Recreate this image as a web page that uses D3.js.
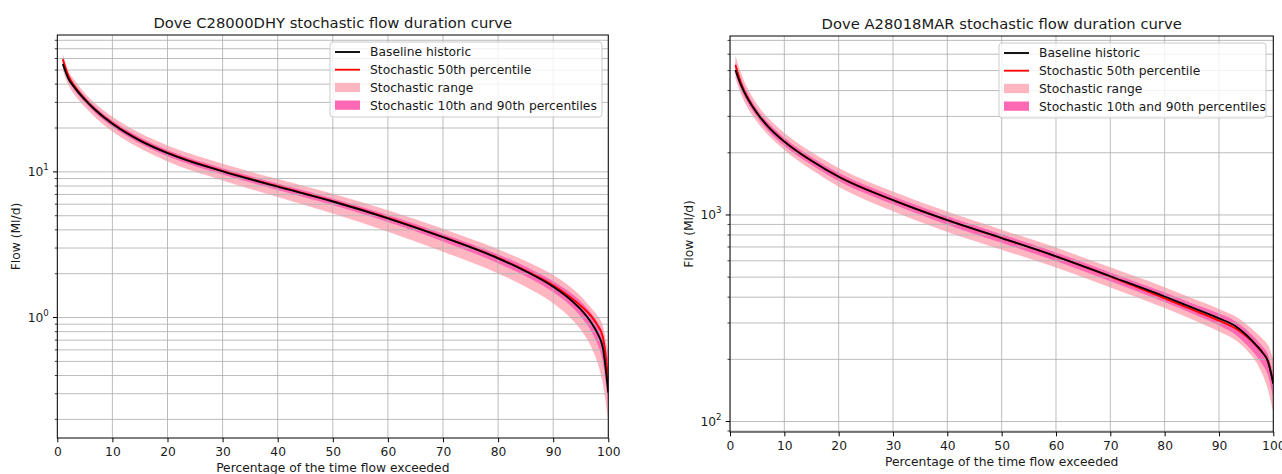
<!DOCTYPE html>
<html>
<head>
<meta charset="utf-8">
<script src="https://cdn.jsdelivr.net/npm/d3@7"></script>
<style>
  body { margin: 0; background: #fff; }
  svg text { font-family: "DejaVu Sans", sans-serif; fill: #1a1a1a; }
</style>
</head>
<body>
<div id="chart"></div>
<script>
// percentage of time flow exceeded
const pct = [1, 2, 3, 5, 7, 10, 15, 20, 30, 40, 50, 60, 70, 80, 85, 90, 93, 95, 97, 98, 99, 100];

// Dove C28000DHY (Ml/d)
const dhyBaseline = [55.0, 43.7, 38.5, 31.3, 26.4, 21.4, 16.4, 13.45, 10.08, 7.91, 6.26, 4.80, 3.56, 2.55, 2.08, 1.627, 1.341, 1.136, 0.911, 0.784, 0.623, 0.305];
const dhyP50      = [59.3, 45.7, 39.4, 31.6, 26.5, 21.6, 16.56, 13.54, 10.15, 7.97, 6.30, 4.84, 3.58, 2.57, 2.10, 1.665, 1.388, 1.204, 1.010, 0.890, 0.740, 0.371];
const dhyMin      = [50.1, 39.4, 34.4, 27.9, 23.4, 18.9, 14.5, 11.79, 8.74, 6.71, 5.17, 3.88, 2.83, 2.01, 1.63, 1.254, 1.006, 0.823, 0.616, 0.495, 0.350, 0.1925];
const dhyMax      = [64.6, 49.5, 43.2, 34.7, 29.2, 23.9, 18.45, 15.15, 11.36, 8.92, 7.07, 5.45, 4.07, 2.94, 2.44, 1.957, 1.632, 1.398, 1.147, 1.034, 0.880, 0.568];
const dhyP10      = [53.5, 42.2, 36.9, 29.9, 25.2, 20.4, 15.67, 12.81, 9.58, 7.51, 5.92, 4.52, 3.33, 2.36, 1.923, 1.495, 1.218, 1.017, 0.793, 0.660, 0.495, 0.251];
const dhyP90      = [61.4, 47.3, 40.7, 32.9, 27.7, 22.5, 17.26, 14.11, 10.58, 8.31, 6.57, 5.05, 3.76, 2.71, 2.24, 1.772, 1.491, 1.290, 1.058, 0.932, 0.784, 0.506];

// Dove A28018MAR (Ml/d)
const marBaseline = [5030, 4266, 3758, 3105, 2679, 2265, 1828, 1531, 1180, 944, 773, 631, 505, 403, 357, 316, 290, 263, 232, 216, 196, 152.4];
const marP50      = [5316, 4365, 3802, 3110, 2682, 2268, 1830, 1533, 1181, 945, 773, 630, 503, 395, 349, 308, 283, 259, 231, 216, 196, 154];
const marMin      = [4587, 3855, 3388, 2818, 2443, 2065, 1656, 1371, 1042, 828, 679, 557, 446, 355, 313, 273, 248, 223, 191, 169.4, 143.5, 110.4];
const marMax      = [5908, 4875, 4217, 3428, 2951, 2495, 2018, 1690, 1300, 1038, 849, 695, 558, 447, 396, 351, 323, 296.5, 266.7, 251.8, 234.4, 201];
const marP10      = [4826, 4074, 3589, 2965, 2559, 2163, 1746, 1462, 1127, 897, 733, 598, 478, 379, 334, 292, 264, 237, 206, 189, 168, 129.7];
const marP90      = [5490, 4571, 3981, 3251, 2799, 2366, 1910, 1600, 1233, 986, 807, 659, 527, 421, 374, 333, 306, 279, 248, 231, 212, 169];

const xTicks = [0, 10, 20, 30, 40, 50, 60, 70, 80, 90, 100];
const legendLabels = ['Baseline historic', 'Stochastic 50th percentile', 'Stochastic range', 'Stochastic 10th and 90th percentiles'];

const panels = [
    {
        id: 'dhy', title: 'Dove C28000DHY stochastic flow duration curve',
        baseline: dhyBaseline, p50: dhyP50, min: dhyMin, max: dhyMax, p10: dhyP10, p90: dhyP90,
        yDomain: [0.149, 87],
        left: 57.3, right: 608.3, top: 35, bottom: 438,
        yLabelX: 16, legendX: 330, legendY: 42, legendW: 272
    },
    {
        id: 'mar', title: 'Dove A28018MAR stochastic flow duration curve',
        baseline: marBaseline, p50: marP50, min: marMin, max: marMax, p10: marP10, p90: marP90,
        yDomain: [89, 7350],
        left: 730, right: 1273.3, top: 36, bottom: 432,
        yLabelX: 689, legendX: 999, legendY: 43, legendW: 267
    }
];

const W = 1282, H = 474;
const FONT = 12.3;
const svg = d3.select('#chart').append('svg')
    .attr('width', W).attr('height', H)
    .attr('viewBox', `0 0 ${W} ${H}`);

const LIGHT = '#ffb6c1';   // lightpink
const HOT = '#ff69b4';     // hotpink
const GRID = '#b0b0b0';

panels.forEach(drawPanel);

function drawPanel(p) {
    const g = svg.append('g');
    const x = d3.scaleLinear().domain([0, 100]).range([p.left, p.right]);
    const y = d3.scaleLog().domain(p.yDomain).range([p.bottom, p.top]);

    // every 1..9 x 10^e inside the domain
    const yTicks = [];
    const e0 = Math.floor(Math.log10(p.yDomain[0])), e1 = Math.ceil(Math.log10(p.yDomain[1]));
    for (let e = e0; e <= e1; e++) {
        for (let k = 1; k < 10; k++) {
            const v = +(k * Math.pow(10, e)).toPrecision(6);
            if (v >= p.yDomain[0] && v <= p.yDomain[1]) yTicks.push({ v, k, e });
        }
    }

    g.append('clipPath').attr('id', `clip-${p.id}`)
        .append('rect')
        .attr('x', p.left).attr('y', p.top)
        .attr('width', p.right - p.left).attr('height', p.bottom - p.top);

    const plot = g.append('g').attr('clip-path', `url(#clip-${p.id})`);

    const band = (lo, hi) => d3.area()
        .x((d, i) => x(pct[i]))
        .y0((d, i) => y(lo[i]))
        .y1((d, i) => y(hi[i]))
        .curve(d3.curveMonotoneX);

    plot.append('path').datum(pct).attr('d', band(p.min, p.max)).attr('fill', LIGHT);
    plot.append('path').datum(pct).attr('d', band(p.p10, p.p90)).attr('fill', HOT);

    // grid, both major and minor on y
    plot.selectAll('line.hgrid').data(yTicks).enter().append('line')
        .attr('x1', p.left).attr('x2', p.right)
        .attr('y1', d => y(d.v)).attr('y2', d => y(d.v))
        .attr('stroke', GRID).attr('stroke-width', 1).attr('stroke-opacity', 0.85);
    plot.selectAll('line.vgrid').data(xTicks).enter().append('line')
        .attr('y1', p.top).attr('y2', p.bottom)
        .attr('x1', d => x(d)).attr('x2', d => x(d))
        .attr('stroke', GRID).attr('stroke-width', 1).attr('stroke-opacity', 0.85);

    const line = vals => d3.line()
        .x((d, i) => x(pct[i]))
        .y(d => y(d))
        .curve(d3.curveMonotoneX)(vals);

    plot.append('path').attr('d', line(p.p50))
        .attr('fill', 'none').attr('stroke', '#ff0000').attr('stroke-width', 1.85);
    plot.append('path').attr('d', line(p.baseline))
        .attr('fill', 'none').attr('stroke', '#000').attr('stroke-width', 1.85);

    // frame
    g.append('rect')
        .attr('x', p.left).attr('y', p.top)
        .attr('width', p.right - p.left).attr('height', p.bottom - p.top)
        .attr('fill', 'none').attr('stroke', '#000').attr('stroke-width', 1);

    // x axis
    const xa = g.append('g').attr('transform', `translate(0,${p.bottom})`)
        .call(d3.axisBottom(x).tickValues(xTicks).tickSize(4.3).tickPadding(5).tickFormat(d3.format('d')));
    xa.select('.domain').remove();
    xa.selectAll('text').attr('font-size', FONT).attr('font-family', '"DejaVu Sans", sans-serif');
    xa.selectAll('line').attr('stroke', '#000').attr('stroke-width', 1);

    // y axis ticks
    const ya = g.append('g');
    ya.selectAll('line').data(yTicks).enter().append('line')
        .attr('x1', d => p.left - (d.k === 1 ? 4.3 : 2.5)).attr('x2', p.left)
        .attr('y1', d => y(d.v)).attr('y2', d => y(d.v))
        .attr('stroke', '#000').attr('stroke-width', d => d.k === 1 ? 1 : 0.75);
    const lab = ya.selectAll('text').data(yTicks.filter(d => d.k === 1)).enter().append('text')
        .attr('x', p.left - 8.5).attr('y', d => y(d.v))
        .attr('dy', '0.36em')
        .attr('text-anchor', 'end')
        .attr('font-size', FONT);
    lab.append('tspan').text('10');
    lab.append('tspan').attr('font-size', FONT * 0.7).attr('dy', '-0.75em').text(d => d.e);

    // axis titles
    g.append('text')
        .attr('transform', `translate(${p.yLabelX},${(p.top + p.bottom) / 2}) rotate(-90)`)
        .attr('text-anchor', 'middle').attr('dy', '0.36em')
        .attr('font-size', FONT).text('Flow (Ml/d)');
    g.append('text')
        .attr('x', (p.left + p.right) / 2).attr('y', p.bottom + 34)
        .attr('text-anchor', 'middle')
        .attr('font-size', FONT).text('Percentage of the time flow exceeded');
    g.append('text')
        .attr('x', (p.left + p.right) / 2).attr('y', p.top - 7)
        .attr('text-anchor', 'middle')
        .attr('font-size', FONT * 1.2).text(p.title);

    // legend
    const lg = g.append('g').attr('transform', `translate(${p.legendX},${p.legendY})`);
    lg.append('rect')
        .attr('width', p.legendW).attr('height', 75)
        .attr('rx', 3)
        .attr('fill', '#fff').attr('fill-opacity', 0.8)
        .attr('stroke', '#cccccc').attr('stroke-width', 1);
    legendLabels.forEach((t, i) => {
        const cy = 10 + i * 17.7;
        if (i < 2) {
            lg.append('line')
                .attr('x1', 5).attr('x2', 30).attr('y1', cy).attr('y2', cy)
                .attr('stroke', i === 0 ? '#000' : '#ff0000').attr('stroke-width', 1.85);
        } else {
            lg.append('rect')
                .attr('x', 5).attr('y', cy - 4.6).attr('width', 25).attr('height', 9.3)
                .attr('fill', i === 2 ? LIGHT : HOT);
        }
        lg.append('text')
            .attr('x', 40).attr('y', cy).attr('dy', '0.36em')
            .attr('font-size', FONT).text(t);
    });
}
</script>
</body>
</html>
